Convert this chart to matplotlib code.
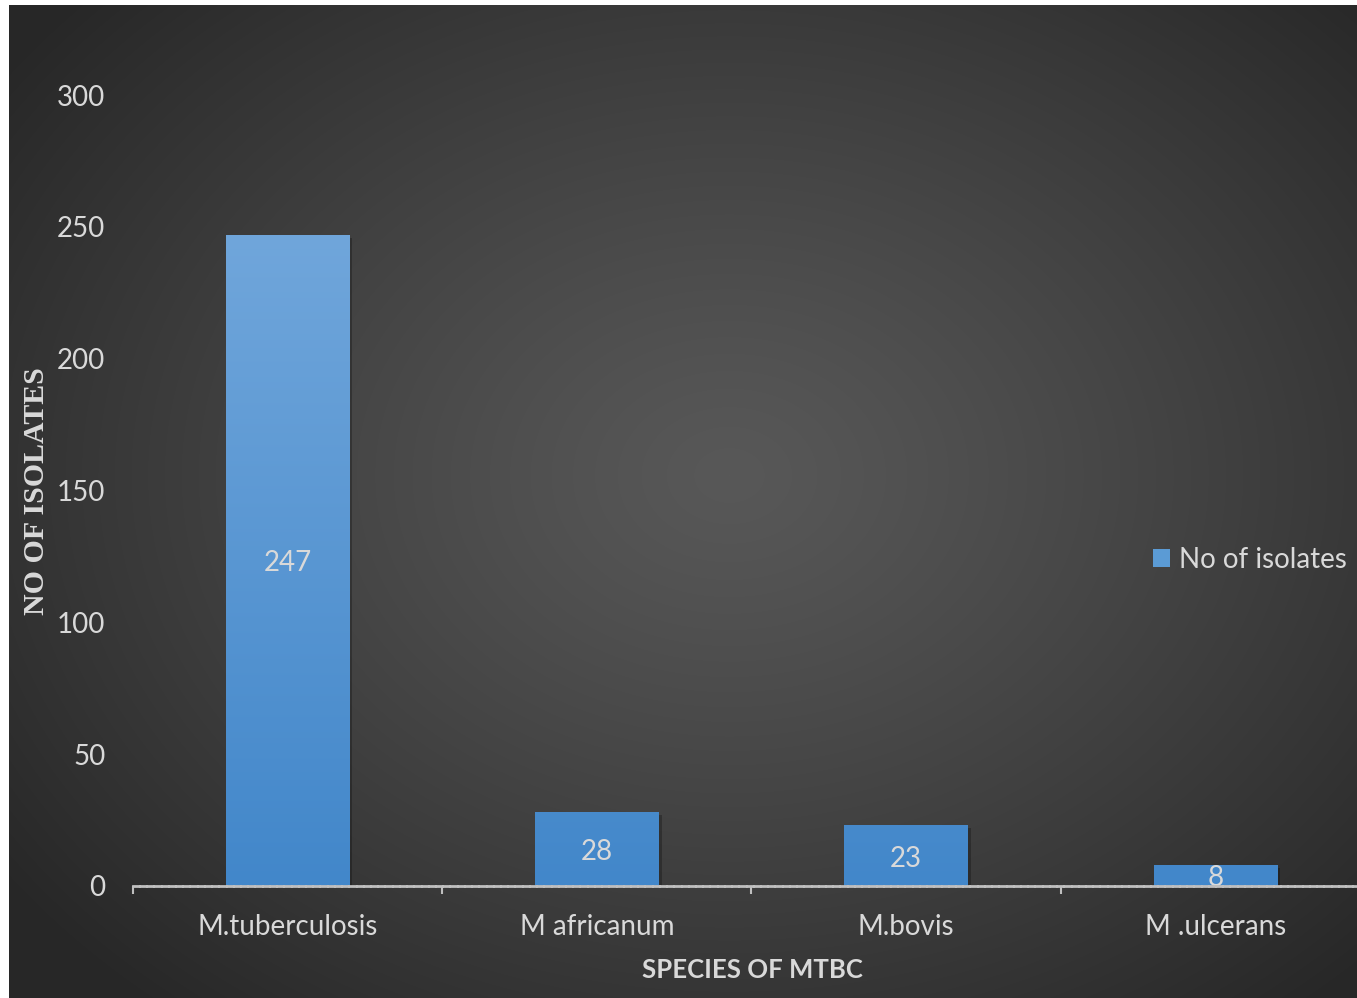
import numpy as np
import matplotlib
matplotlib.use("Agg")
import matplotlib.pyplot as plt
from matplotlib.patches import Patch
import matplotlib.transforms as mtransforms

categories = ["M.tuberculosis", "M africanum", "M.bovis", "M .ulcerans"]
values = [247, 28, 23, 8]
yticks = [0, 50, 100, 150, 200, 250, 300]
series_name = "No of isolates"
x_title = "SPECIES OF MTBC"
y_title = "NO OF ISOLATES"

W, H = 1357, 998
fig = plt.figure(figsize=(W / 100, H / 100), dpi=100)
fig.patch.set_facecolor("white")

# background radial gradient (chart area)
bg = fig.add_axes([9 / W, 0, 1 - 9 / W, 1 - 5 / H])
bg.set_axis_off()
gx, gy = np.meshgrid(np.arange(W - 9), np.arange(H - 5))
cx, cy, rx, ry = 720, 470, 900, 700
d = np.sqrt(((gx - cx) / rx) ** 2 + ((gy - cy) / ry) ** 2)
d = np.clip(d, 0, 1)
val = (0x58 - (0x58 - 0x27) * d ** 1.2) / 255.0
img = np.dstack([val, val, val])
bg.imshow(img, aspect="auto", extent=[0, 1, 0, 1], origin="upper")
bg.set_xlim(0, 1)
bg.set_ylim(0, 1)

txt = "#D9D9D9"
font = "Lato"

ax = fig.add_axes([133 / W, 1 - 886 / H, (1370 - 133) / W, (886 - 95) / H])
ax.set_facecolor("none")
ax.set_xlim(-0.5, 3.5)
ax.set_ylim(0, 300)
xs = np.arange(len(categories))

# shadow
shadow_tr = ax.transData + mtransforms.ScaledTranslation(3 / 100, -3 / 100, fig.dpi_scale_trans)
ax.bar(xs, values, width=0.4, color="black", alpha=0.25, transform=shadow_tr, zorder=1)

bars = ax.bar(xs, values, width=0.4, color="none", zorder=2)
grad = np.linspace(0, 1, 256).reshape(-1, 1)
top = np.array([0x70, 0xA6, 0xDB]) / 255
bot = np.array([0x42, 0x87, 0xCA]) / 255
gimg = top[None, None, :] * (1 - grad[:, :, None]) + bot[None, None, :] * grad[:, :, None]
label_tr = ax.transData + mtransforms.ScaledTranslation(0, -3 / 100, fig.dpi_scale_trans)
for b, v in zip(bars, values):
    x0 = b.get_x()
    im = ax.imshow(gimg, aspect="auto", extent=[x0, x0 + b.get_width(), 0, 247],
                   origin="upper", zorder=2)
    im.set_clip_path(b)
    ax.text(b.get_x() + b.get_width() / 2, v / 2, str(v), ha="center", va="center",
            color=txt, fontsize=20, family=font, zorder=4, transform=label_tr)
ax.set_xlim(-0.5, 3.5)
ax.set_ylim(0, 300)

for s in ["top", "right", "left"]:
    ax.spines[s].set_visible(False)
ax.spines["bottom"].set_color("#BFBFBF")
ax.spines["bottom"].set_linewidth(2)
ax.spines["bottom"].set_linestyle((0, (2, 0.6)))
ax.spines["bottom"].set_zorder(5)

ax.set_yticks(yticks)
ax.set_yticklabels([str(t) for t in yticks], color=txt, fontsize=20, family=font)
ax.tick_params(axis="y", length=0, pad=20)
ax.set_xticks(xs)
ax.set_xticklabels(categories, color=txt, fontsize=20, family=font)
ax.tick_params(axis="x", which="major", length=0, pad=20)
ax.set_xticks(np.arange(-0.5, 4, 1), minor=True)
ax.tick_params(axis="x", which="minor", length=6, width=1.5, color="#BFBFBF", direction="out")

fig.text(752 / W, 1 - 970 / H, x_title, ha="center", va="center", color=txt,
         fontsize=18.5, fontweight="bold", family=font)
fig.text(37 / W, 1 - 491 / H, y_title, ha="center", va="center", rotation=90,
         color=txt, fontsize=21.5, fontweight="bold", family="Liberation Serif")

leg = fig.legend(handles=[Patch(facecolor="#5B9BD5", edgecolor="none", label=series_name)],
                 loc="center left", bbox_to_anchor=(1153 / W, 1 - 560 / H),
                 frameon=False, handlelength=0.6, handleheight=0.6, handletextpad=0.35,
                 borderaxespad=0, borderpad=0,
                 prop={"family": font, "size": 20})
for t in leg.get_texts():
    t.set_color(txt)

fig.savefig("out.png", dpi=100, facecolor="white")
